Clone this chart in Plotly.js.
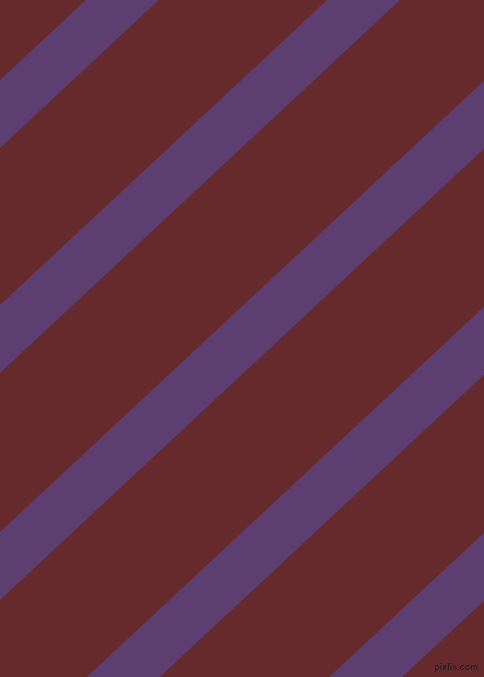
<!DOCTYPE html>
<html>
<head>
<meta charset="utf-8">
<script src="https://cdn.plot.ly/plotly-3.0.1.min.js"></script>
<style>
  html, body { margin: 0; padding: 0; background: #662a2d; }
  #chart { width: 484px; height: 677px; }
</style>
</head>
<body>
<div id="chart"></div>
<script>
// stripe data: y of each stripe's upper edge where it meets x = 0 (px, y down)
const stripeOffsets = [80, 305, 532, 758, 984];
const stripeBand = 68;      // vertical thickness of a stripe
const stripeAngle = 43;     // degrees, rising to the right
const W = 484, H = 677;

const BG = "#662a2d";
const STRIPE = "#5d3e71";

const slope = Math.tan(stripeAngle * Math.PI / 180);
const xs = [-50, W + 50];

const traces = stripeOffsets.map((y0) => {
  const top = xs.map((x) => y0 - slope * x);
  const bottom = xs.map((x) => y0 + stripeBand - slope * x);
  return {
    x: [xs[0], xs[1], xs[1], xs[0]],
    y: [top[0], top[1], bottom[1], bottom[0]],
    mode: "lines",
    fill: "toself",
    fillcolor: STRIPE,
    line: { width: 0, color: STRIPE },
    hoverinfo: "skip",
    showlegend: false,
  };
});

const layout = {
  width: W,
  height: H,
  margin: { l: 0, r: 0, t: 0, b: 0 },
  paper_bgcolor: BG,
  plot_bgcolor: BG,
  xaxis: { range: [0, W], visible: false, fixedrange: true },
  yaxis: { range: [H, 0], visible: false, fixedrange: true },
  annotations: [{
    text: "pixlis.com",
    xref: "paper", yref: "paper",
    x: 0.991, y: 0.004,
    xanchor: "right", yanchor: "bottom",
    showarrow: false,
    font: { family: "Liberation Sans", size: 9, weight: "bold", color: "#1e1014",
            shadow: "0 0 1px #8a5a66" },
  }],
};

Plotly.newPlot("chart", traces, layout, { displayModeBar: false, staticPlot: true });
</script>
</body>
</html>
